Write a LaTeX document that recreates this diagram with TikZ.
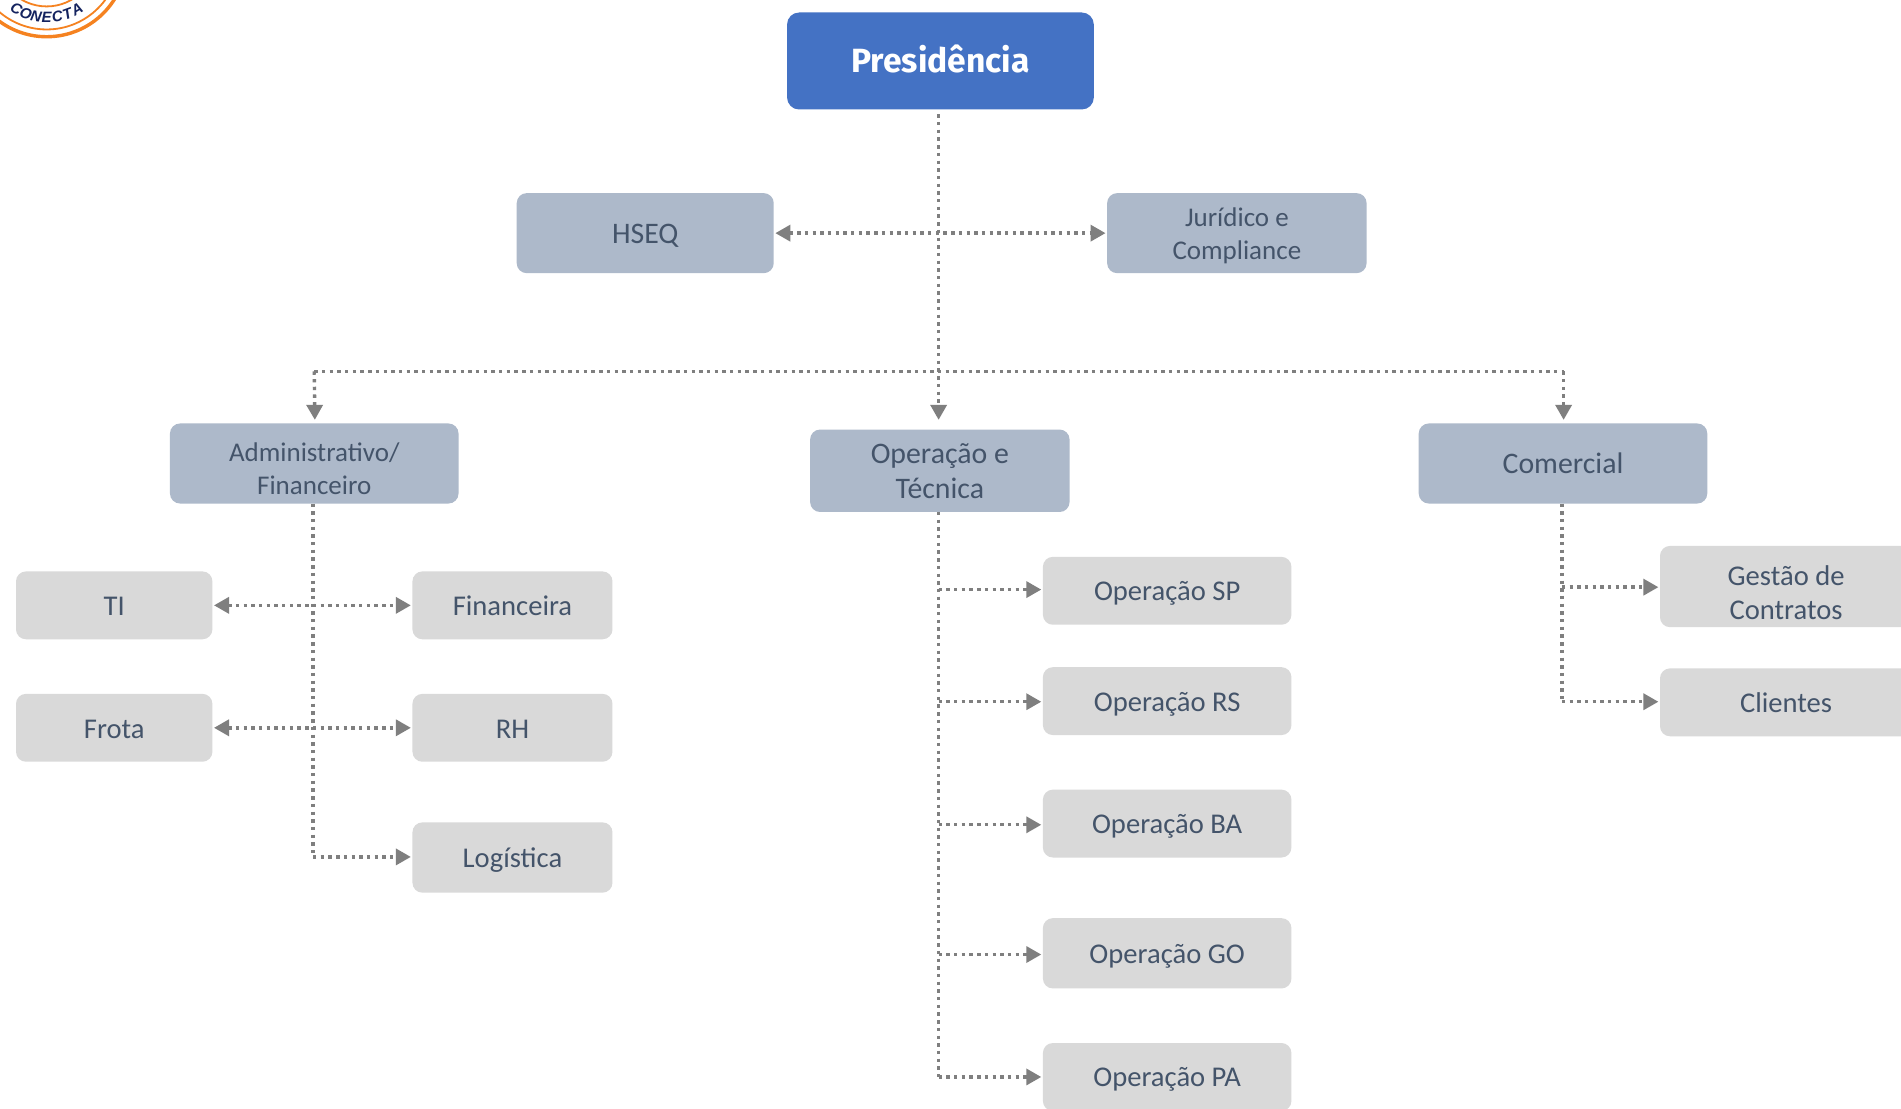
\documentclass[tikz,border=0pt]{standalone}
\usepackage{fontspec}
\setmainfont{Carlito}
\newfontfamily\presfont{Fira Sans}
\newfontfamily\logofont{Liberation Sans}
\usetikzlibrary{arrows.meta}
\definecolor{txt}{HTML}{44546A}
\definecolor{pres}{HTML}{4472C4}
\definecolor{mid}{HTML}{ADB9CA}
\definecolor{light}{HTML}{D9D9D9}
\definecolor{con}{HTML}{7F7F7F}
\definecolor{logoo}{HTML}{F58220}
\definecolor{logon}{HTML}{14235F}
\tikzset{
  tip/.tip={Triangle[length=7.5pt,width=8pt,fill=con,color=con]},
  presbox/.style={fill=pres,text=white,rounded corners=6pt,inner sep=0pt,font=\presfont\bfseries\fontsize{16.8}{20}\selectfont},
  midbox/.style={fill=mid,text=txt,rounded corners=5pt,inner sep=0pt,align=center},
  lightbox/.style={fill=light,text=txt,rounded corners=5pt,inner sep=0pt,align=center},
  big/.style={font=\fontsize{14.9}{17.6}\selectfont},
  reg/.style={font=\fontsize{14.3}{17}\selectfont},
  small/.style={font=\fontsize{13.5}{16.4}\selectfont},
  dots/.style={draw=con,line width=1.7pt,dash pattern=on 1.7pt off 2.15pt,line join=round},
  head/.style={-tip},
  heads/.style={tip-tip},
  letter/.style={text=logon,inner sep=0pt,font=\logofont\bfseries\itshape\fontsize{7.5}{7.5}\selectfont},
}
\newcommand{\tp}{\rule{0pt}{12.4pt}}
\newcommand{\bt}{\rule[-2pt]{0pt}{2pt}}
\newcommand{\bx}[7]{% style, name, l, r, t, b, text
  \pgfmathsetmacro{\bxw}{(#4-#3)*0.6062}\pgfmathsetmacro{\bxh}{(#6-#5)*0.6062}
  \node[#1,minimum width=\bxw pt,minimum height=\bxh pt] (#2) at ({(#3+#4)/2},{(#5+#6)/2}) {\tp #7\bt};}
\begin{document}
\begin{tikzpicture}[x=0.6062pt,y=-0.6062pt]
\useasboundingbox (0,0) rectangle (1568,914);
\clip (0,0) rectangle (1568,914);
\fill[white] (0,0) rectangle (1568,914);
\begin{scope}[shift={(0.2,0.3)}]
% logo
\coordinate (lc) at (38.3,-36);
\draw[logoo,line width=1.7pt] (lc) circle[radius=66];
\draw[logoo,line width=0.9pt] (lc) circle[radius=60];
\draw[logoo,line width=0.9pt] (lc) circle[radius=41];
\foreach \ch [count=\i] in {C,O,N,E,C,T,A}{
  \pgfmathsetmacro{\ang}{(\i-4)*10}
  \node[letter,rotate=\ang] (letter\i) at ({38.3+50*sin(\ang)},{-36+50*cos(\ang)}) {\ch};
}
% nodes
\bx{presbox}{presi}{649}{902}{10}{90}{Presidência}
\bx{midbox,big}{hseq}{426}{638}{159}{225}{HSEQ}
\bx{midbox,small}{jur}{913}{1127}{159}{225}{Jurídico e\\Compliance}
\bx{midbox,small}{adm}{140}{378}{349}{415}{\rule{0pt}{16.6pt}Administrativo/\\Financeiro}
\bx{midbox,big}{ope}{668}{882}{354}{422}{Operação e\\Técnica}
\bx{midbox,big}{com}{1170}{1408}{349}{415}{Comercial}
\bx{lightbox,reg}{ti}{13}{175}{471}{527}{TI}
\bx{lightbox,reg}{frota}{13}{175}{572}{628}{Frota}
\bx{lightbox,reg}{fin}{340}{505}{471}{527}{Financeira}
\bx{lightbox,reg}{rh}{340}{505}{572}{628}{RH}
\bx{lightbox,reg}{log}{340}{505}{678}{736}{Logística}
\bx{lightbox,reg}{sp}{860}{1065}{459}{515}{Operação SP}
\bx{lightbox,reg}{rs}{860}{1065}{550}{606}{Operação RS}
\bx{lightbox,reg}{ba}{860}{1065}{651}{707}{Operação BA}
\bx{lightbox,reg}{go}{860}{1065}{757}{815}{Operação GO}
\bx{lightbox,reg}{pa}{860}{1065}{860}{916}{Operação PA}
\bx{lightbox,reg}{ges}{1369}{1577}{450}{517}{\rule{0pt}{18pt}Gestão de\\Contratos}
\bx{lightbox,reg}{cli}{1369}{1577}{551}{607}{Clientes}
% junctions
\coordinate (ptop) at (774,94);
\coordinate (jl) at (259,306);
\coordinate (jr) at (1289.5,306);
\coordinate (aat) at (259.5,346);
\coordinate (aot) at (774,346);
\coordinate (act) at (1289.5,346);
\coordinate (a0) at (258,415);
\coordinate (a1) at (258,706.5);
\coordinate (o0) at (774,422);
\coordinate (o1) at (774,888);
\coordinate (c0) at (1288,415);
\coordinate (c1) at (1288,578.5);
\coordinate (osp) at (774,486);
\coordinate (ors) at (774,578.5);
\coordinate (oba) at (774,680);
\coordinate (ogo) at (774,787);
\coordinate (cge) at (1288,484);
% connectors
\draw[dots,head] (ptop) -- (aot);
\draw[dots] (jl) -- (jr);
\draw[dots,head] (jl) -- (aat);
\draw[dots,head] (jr) -- (act);
\draw[dots,heads,shorten <=0.6pt,shorten >=0.6pt] (hseq.east) -- (jur.west);
\draw[dots] (a0) -- (a1);
\draw[dots,heads,shorten <=0.6pt,shorten >=0.6pt] (ti.east) -- (fin.west);
\draw[dots,heads,shorten <=0.6pt,shorten >=0.6pt] (frota.east) -- (rh.west);
\draw[dots,head,shorten >=0.6pt] (a1) -- (a1 -| log.west);
\draw[dots] (o0) -- (o1);
\draw[dots,head,shorten >=0.6pt] (osp) -- (osp -| sp.west);
\draw[dots,head,shorten >=0.6pt] (ors) -- (ors -| rs.west);
\draw[dots,head,shorten >=0.6pt] (oba) -- (oba -| ba.west);
\draw[dots,head,shorten >=0.6pt] (ogo) -- (ogo -| go.west);
\draw[dots,head,shorten >=0.6pt] (o1) -- (o1 -| pa.west);
\draw[dots] (c0) -- (c1);
\draw[dots,head,shorten >=0.6pt] (cge) -- (cge -| ges.west);
\draw[dots,head,shorten >=0.6pt] (c1) -- (c1 -| cli.west);
\end{scope}
\end{tikzpicture}
\end{document}
